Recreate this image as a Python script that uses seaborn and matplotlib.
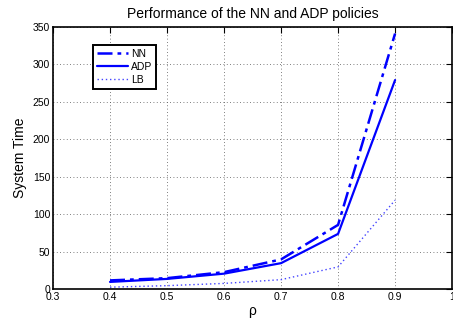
import matplotlib
matplotlib.use("Agg")
import matplotlib.pyplot as plt
import seaborn as sns
import pandas as pd

rho = [0.4, 0.5, 0.6, 0.7, 0.8, 0.9]
nn = [12, 15, 23, 40, 86, 341]
adp = [10, 14, 21, 35, 74, 279]
lb = [3, 5, 8, 13, 30, 119]

xticks = [0.3, 0.4, 0.5, 0.6, 0.7, 0.8, 0.9, 1.0]
xticklabels = ["0.3", "0.4", "0.5", "0.6", "0.7", "0.8", "0.9", "1"]
yticks = [0, 50, 100, 150, 200, 250, 300, 350]

sns.set_theme(style="white")
plt.rcParams['font.family'] = ['Liberation Sans', 'DejaVu Sans']
plt.rcParams['text.color'] = 'black'
plt.rcParams['axes.labelcolor'] = 'black'

fig = plt.figure(figsize=(4.53, 3.23), dpi=100)
ax = fig.add_axes([0.117, 0.104, 0.881, 0.813])

sns.lineplot(x=rho, y=nn, ax=ax, color="#0000ff", lw=1.8, label="NN")
ax.lines[-1].set_dashes([6, 2, 1.5, 2])
sns.lineplot(x=rho, y=adp, ax=ax, color="#0000ff", lw=1.6, label="ADP")
sns.lineplot(x=rho, y=lb, ax=ax, color="#4444ff", lw=1.0, label="LB")
ax.lines[-1].set_linestyle((0, (1, 2)))

ax.set_xlim(0.3, 1.0)
ax.set_ylim(0, 350)
ax.set_xticks(xticks)
ax.set_xticklabels(xticklabels)
ax.set_yticks(yticks)
ax.tick_params(direction="in", top=True, right=True, length=4, width=0.8,
               labelsize=7.5, pad=2, colors="black")
ax.grid(True, linestyle=(0, (1, 3)), color="#555555", lw=0.6)
for s in ax.spines.values():
    s.set_visible(True)
    s.set_color("black")
    s.set_linewidth(1.2)

ax.set_title("Performance of the NN and ADP policies", fontsize=10, pad=6, color="black")
ax.set_xlabel("ρ", fontsize=10, labelpad=1)
ax.set_ylabel("System Time", fontsize=10, labelpad=4)

leg = ax.legend(loc="upper left", bbox_to_anchor=(0.10, 0.93), fontsize=7.5,
                frameon=True, fancybox=False, edgecolor="black",
                handlelength=3.0, borderpad=0.35, labelspacing=0.3,
                handletextpad=0.3, borderaxespad=0)
leg.get_frame().set_linewidth(1.4)
leg.get_frame().set_alpha(1)
for t in leg.get_texts():
    t.set_color("black")

fig.savefig("out.png", dpi=100)
